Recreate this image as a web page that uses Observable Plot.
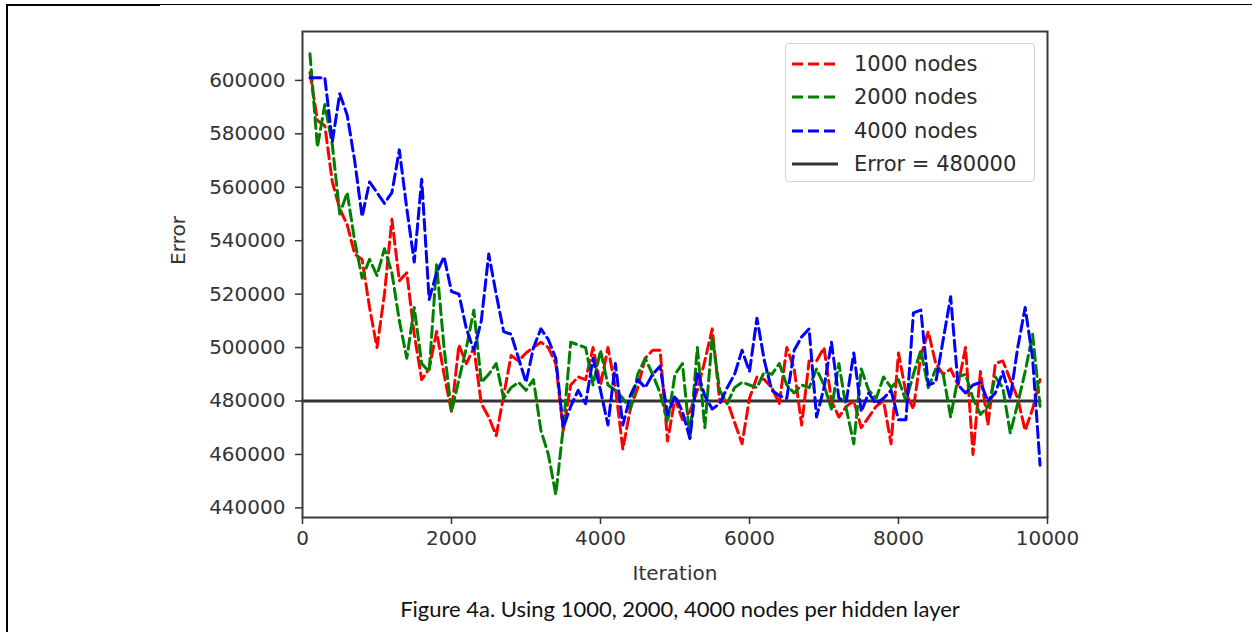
<!DOCTYPE html>
<html>
<head>
<meta charset="utf-8">
<script src="https://cdn.jsdelivr.net/npm/d3@7"></script>
<script src="https://cdn.jsdelivr.net/npm/@observablehq/plot@0.6"></script>
<style>
  html, body { margin: 0; padding: 0; background: #fff; }
  body { width: 1252px; height: 632px; position: relative; overflow: hidden; font-family: "DejaVu Sans", sans-serif; }
  #chart { position: absolute; left: 0; top: 0; }
  #legend { position: absolute; left: 785px; top: 43px; width: 250px; height: 139px; box-sizing: border-box;
    border: 1px solid #d4d4d4; border-radius: 4px; background: rgba(255,255,255,0.85); padding-top: 3px; }
  .lrow { display: flex; align-items: center; height: 33.5px; }
  .lrow svg { margin-left: 6px; margin-right: 16px; }
  .lrow span { font-size: 21px; color: #2a2a2a; }
  #caption { position: absolute; left: 0; width: 1360px; top: 595px; text-align: center;
    font-family: "Lato", "Open Sans", sans-serif; font-size: 22px; color: #111; }
  #topline { position: absolute; left: 6px; right: 0; top: 4px; border-top: 1px solid #000; }
  #topline2 { position: absolute; left: 6px; width: 154px; top: 4px; border-top: 2px solid #000; }
  #leftline { position: absolute; left: 6px; top: 4px; bottom: 0; border-left: 2px solid #000; }
</style>
</head>
<body>
<div id="topline"></div><div id="topline2"></div><div id="leftline"></div>
<div id="chart"></div>
<div id="legend"></div>
<div id="caption">Figure 4a. Using 1000, 2000, 4000 nodes per hidden layer</div>
<script>
const iterations = [100,200,300,400,500,600,700,800,900,1000,1100,1200,1300,1400,1500,1600,1700,1800,1900,2000,
  2100,2200,2300,2400,2500,2600,2700,2800,2900,3000,3100,3200,3300,3400,3500,3600,3700,3800,3900,4000,
  4100,4200,4300,4400,4500,4600,4700,4800,4900,5000,5100,5200,5300,5400,5500,5600,5700,5800,5900,6000,
  6100,6200,6300,6400,6500,6600,6700,6800,6900,7000,7100,7200,7300,7400,7500,7600,7700,7800,7900,8000,
  8100,8200,8300,8400,8500,8600,8700,8800,8900,9000,9100,9200,9300,9400,9500,9600,9700,9800,9900];

const nodes1000 = [603000,585000,583000,562000,552000,546000,535000,533000,515000,500000,
  520000,548000,525000,528000,505000,488000,492000,506000,490000,476000,
  501000,494000,500000,479000,474000,467000,482000,497000,495000,498000,
  500000,502000,500000,494000,469000,486000,489000,488000,500000,486000,
  500000,485000,462000,477000,485000,496000,499000,499000,465000,481000,
  473000,476000,484000,495000,507000,480000,480000,472000,464000,481000,
  489000,488000,485000,479000,500000,492000,471000,495000,495000,500000,
  480000,474000,478000,480000,470000,474000,478000,480000,464000,498000,
  483000,477000,497000,506000,494000,490000,492000,486000,500000,460000,
  491000,471000,494000,495000,488000,481000,469000,477000,488000];

const nodes2000 = [610000,575000,591000,576000,550000,558000,540000,526000,533000,527000,
  537000,528000,510000,496000,515000,494000,491000,531000,500000,476000,
  488000,500000,514000,487000,490000,494000,481000,485000,487000,484000,
  488000,469000,460000,445000,470000,502000,501000,500000,486000,499000,
  486000,484000,481000,477000,490000,496000,490000,483000,472000,490000,
  494000,466000,500000,470000,504000,484000,479000,485000,487000,486000,
  485000,491000,490000,494000,486000,483000,486000,485000,492000,486000,
  477000,494000,477000,464000,492000,484000,481000,489000,485000,488000,
  480000,490000,499000,485000,492000,490000,474000,489000,490000,481000,
  475000,478000,489000,485000,468000,479000,491000,505000,478000];

const nodes4000 = [601000,601000,601000,577000,595000,587000,570000,549000,562000,558000,
  554000,558000,574000,552000,532000,563000,518000,528000,534000,521000,
  520000,507000,499000,510000,535000,520000,506000,505000,496000,487000,
  500000,507000,503000,496000,470000,478000,484000,479000,496000,484000,
  471000,494000,471000,482000,488000,485000,490000,493000,475000,482000,
  476000,466000,491000,482000,477000,479000,485000,490000,499000,491000,
  511000,495000,484000,482000,481000,499000,504000,507000,474000,485000,
  502000,481000,480000,498000,476000,483000,479000,481000,484000,473000,
  473000,513000,514000,486000,487000,503000,519000,486000,483000,486000,
  487000,480000,483000,491000,481000,500000,515000,496000,456000];

const seriesNames = ["1000 nodes", "2000 nodes", "4000 nodes"];
const seriesColors = ["#ff0000", "#008000", "#0000ff"];
const seriesValues = [nodes1000, nodes2000, nodes4000];

const thresholdLabel = "Error = 480000";
const thresholdValue = 480000;
const thresholdX = [0, 9900];

const xTicks = [0, 2000, 4000, 6000, 8000, 10000];
const yTicks = [440000, 460000, 480000, 500000, 520000, 540000, 560000, 580000, 600000];
const xDomain = [0, 10000];
const yDomain = [436400, 618300];

const rows = seriesNames.flatMap((name, i) =>
  iterations.map((it, j) => ({series: name, iteration: it, error: seriesValues[i][j]})));
const thresholdRows = thresholdX.map(x => ({iteration: x, error: thresholdValue}));

const fmt = d3.format("d");
const chart = Plot.plot({
  width: 1252, height: 590,
  marginLeft: 302, marginRight: 205, marginTop: 31, marginBottom: 73,
  style: {fontFamily: "DejaVu Sans, sans-serif", fontSize: "20px", color: "#333", background: "transparent"},
  x: {domain: xDomain},
  y: {domain: yDomain},
  color: {domain: seriesNames, range: seriesColors},
  marks: [
    Plot.line(thresholdRows, {x: "iteration", y: "error", stroke: "#333", strokeWidth: 3}),
    ...seriesNames.map((name, i) =>
      Plot.line(rows.filter(d => d.series === name), {x: "iteration", y: "error", stroke: seriesColors[i],
        strokeWidth: 3, strokeDasharray: "11,5", strokeLinejoin: "round"})),
    Plot.frame({stroke: "#3a3a3a", strokeWidth: 2}),
    Plot.axisX({ticks: xTicks, tickFormat: fmt, tickSize: 7, tickPadding: 6, label: null, stroke: "#333", strokeWidth: 1.5}),
    Plot.axisY({ticks: yTicks, tickFormat: fmt, tickSize: 7, tickPadding: 10, label: null, stroke: "#333", strokeWidth: 1.5}),
    Plot.text(["Iteration"], {frameAnchor: "bottom", dy: 56, lineAnchor: "middle", fill: "#333", fontSize: 20}),
    Plot.text(["Error"], {frameAnchor: "left", dx: -124, dy: -34, rotate: -90, lineAnchor: "middle", textAnchor: "middle", fill: "#333", fontSize: 20})
  ]
});
document.getElementById("chart").appendChild(chart);

const legend = document.getElementById("legend");
const entries = seriesNames.map((n, i) => ({label: n, color: seriesColors[i], dash: "11,5"}))
  .concat([{label: thresholdLabel, color: "#333", dash: null}]);
for (const e of entries) {
  const row = document.createElement("div");
  row.className = "lrow";
  row.innerHTML = `<svg width="46" height="10"><line x1="0" x2="46" y1="5" y2="5" stroke="${e.color}" stroke-width="3" ${e.dash ? `stroke-dasharray="${e.dash}"` : ""}/></svg><span>${e.label}</span>`;
  legend.appendChild(row);
}
</script>
</body>
</html>
